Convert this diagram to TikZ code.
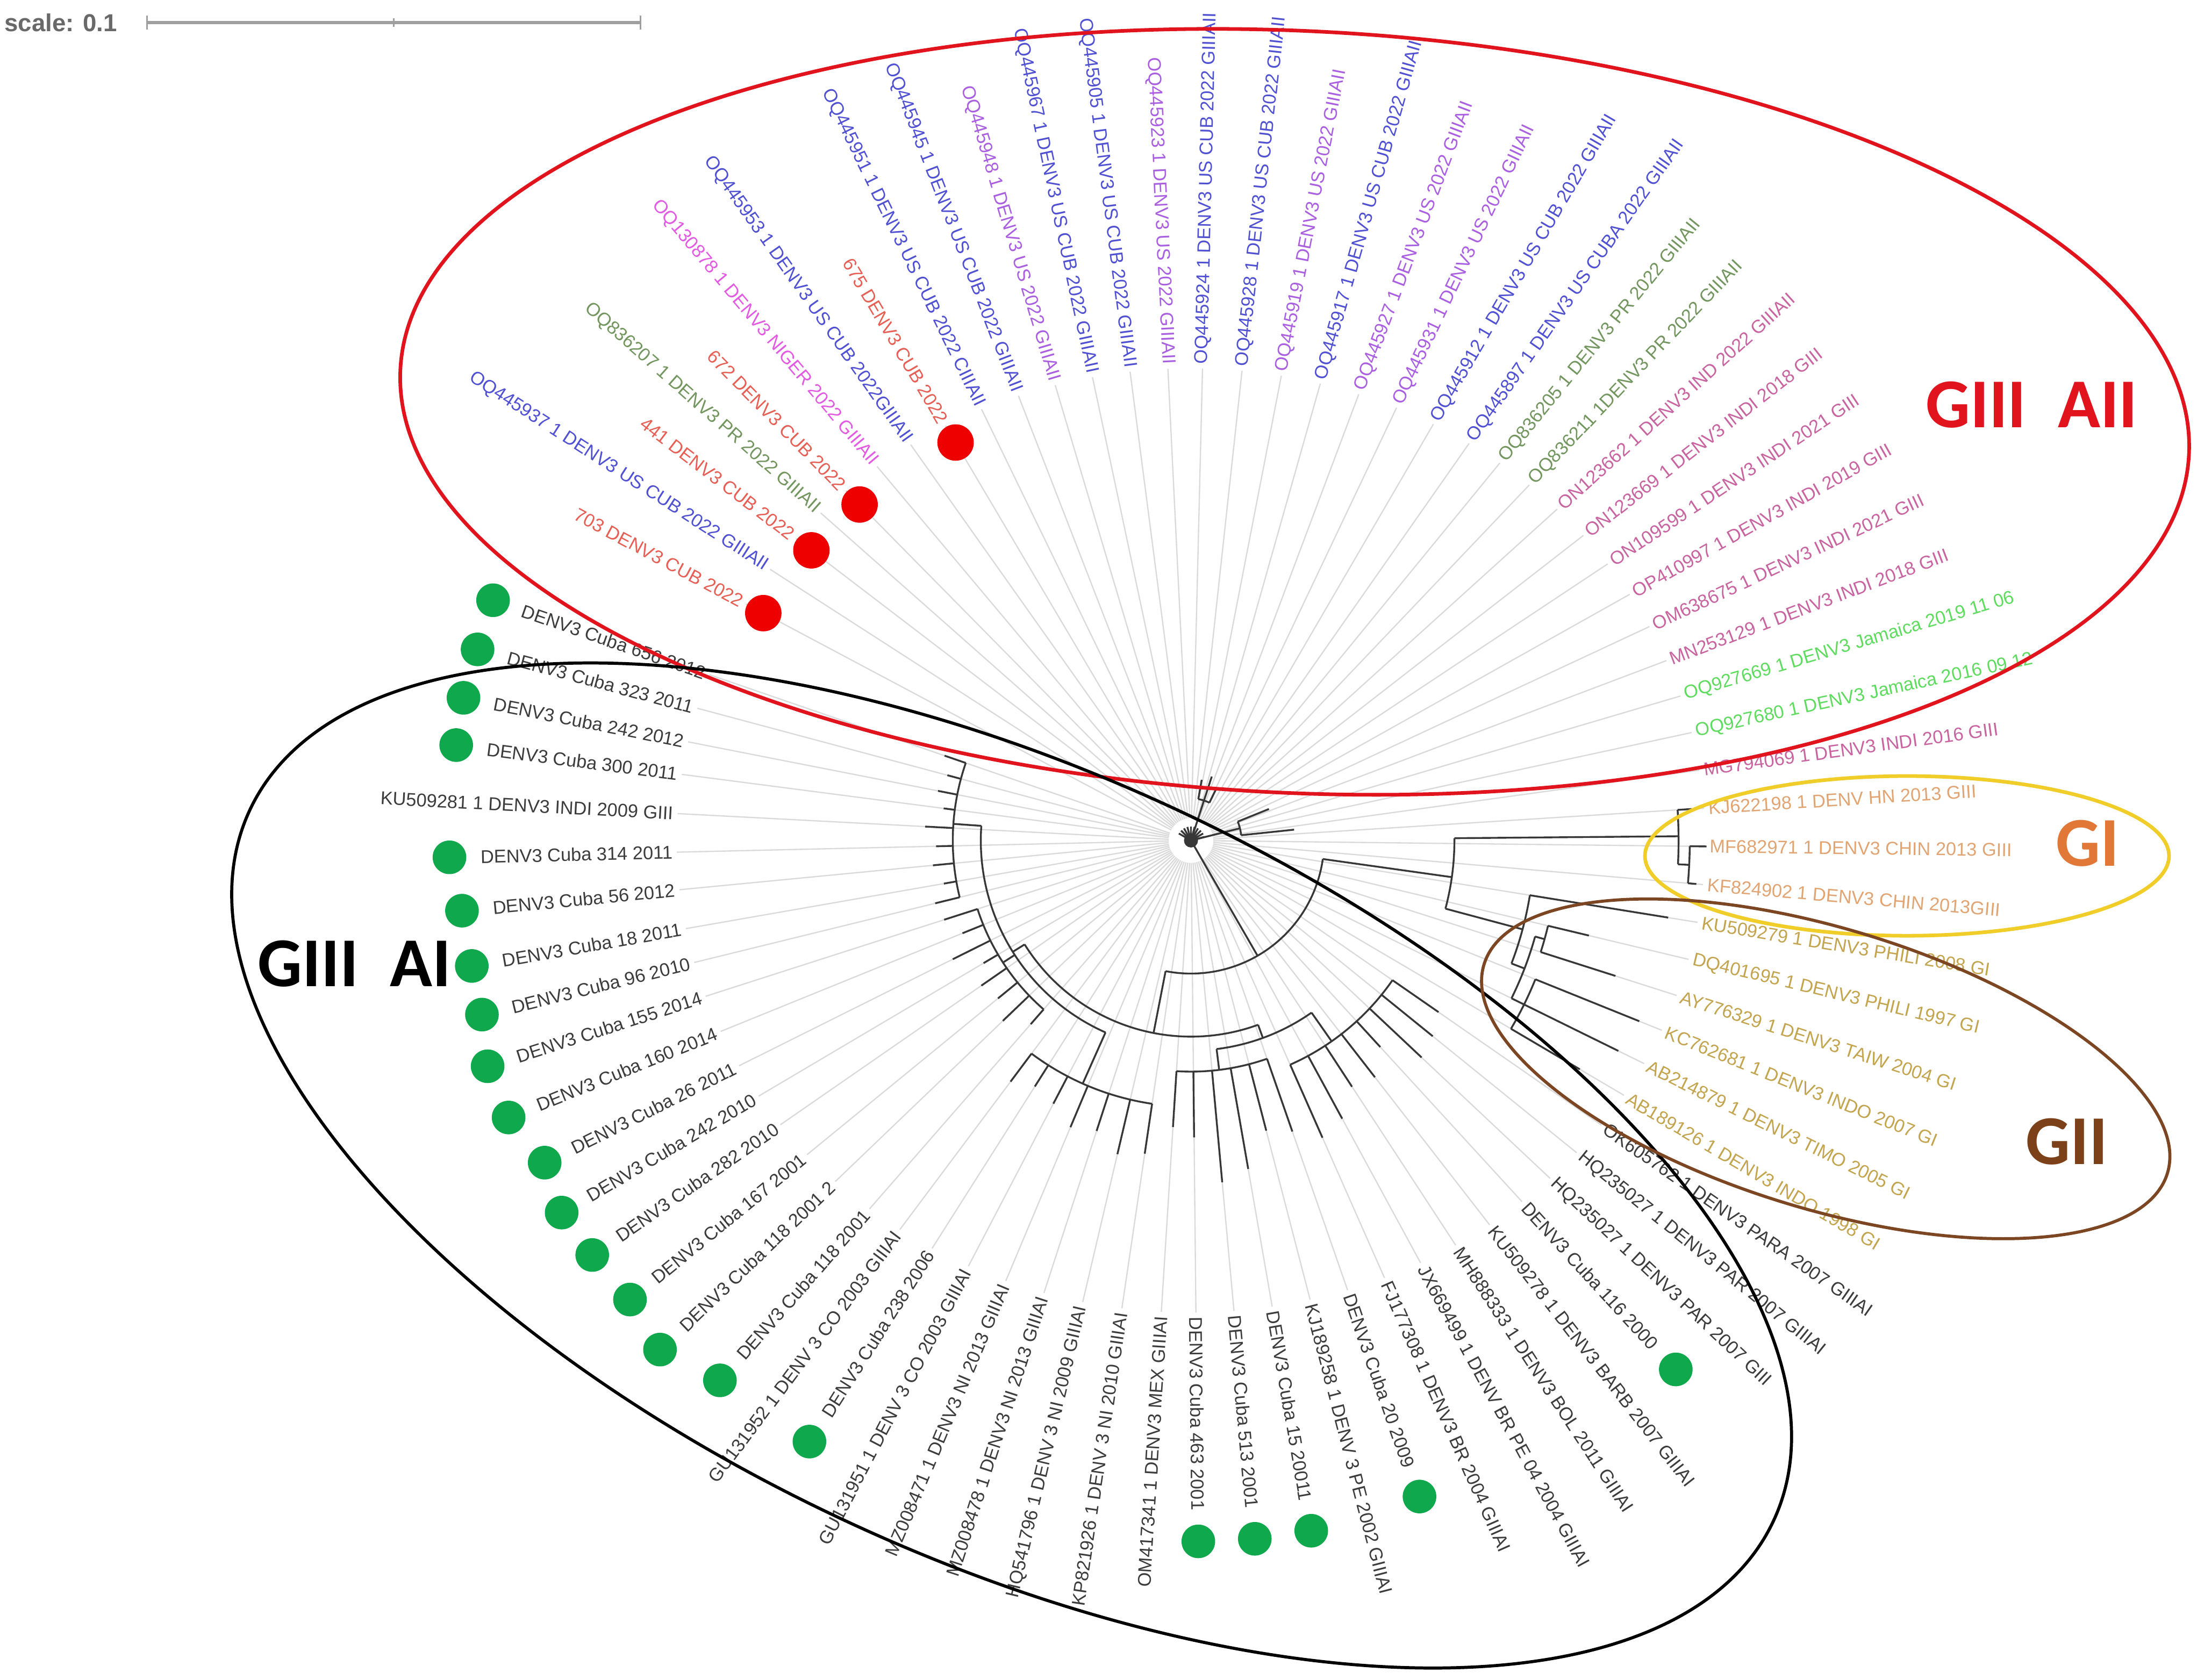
\documentclass[tikz,border=0pt]{standalone}
\usepackage{fontspec}
\setmainfont{Liberation Sans}
\newfontfamily\calib{Carlito}
\usetikzlibrary{calc}
\definecolor{cblue}{RGB}{80,80,210}
\definecolor{cpurp}{RGB}{170,95,225}
\definecolor{cmag}{RGB}{225,90,225}
\definecolor{csalm}{RGB}{230,95,85}
\definecolor{cpr}{RGB}{115,150,95}
\definecolor{cmauve}{RGB}{200,100,160}
\definecolor{cjam}{RGB}{95,220,95}
\definecolor{cgi}{RGB}{225,165,115}
\definecolor{cgii}{RGB}{195,165,80}
\definecolor{cblk}{RGB}{60,60,60}
\definecolor{dotg}{RGB}{16,168,76}
\definecolor{dotr}{RGB}{238,0,0}
\definecolor{ellred}{RGB}{225,20,30}
\definecolor{ellyel}{RGB}{240,205,40}
\definecolor{ellbrn}{RGB}{125,70,35}
\definecolor{giorange}{RGB}{225,120,55}
\definecolor{giibrown}{RGB}{125,65,25}
\definecolor{leadc}{RGB}{218,218,218}
\definecolor{treec}{RGB}{55,55,55}
\tikzset{
  lbl/.style={inner sep=0pt, font=\fontsize{13.2}{14}\selectfont},
  leaderline/.style={draw=leadc, line width=0.9pt},
  treeline/.style={draw=treec, line width=1.3pt},
  grp/.style={inner sep=0pt, font=\calib\bfseries\fontsize{50}{50}\selectfont},
}
\newcommand\tarc[3]{\draw[treeline] (#2:#1) arc[start angle=#2, end angle=#3, radius=#1pt];}
\newcommand\trad[3]{\draw[treeline] (#1:#2) -- (#1:#3);}
\begin{document}
\begin{tikzpicture}[x=1pt,y=1pt]
\useasboundingbox (0,0) rectangle (1568,-1199);
\fill[white] (0,0) rectangle (1568,-1199);

% scale bar
\node[anchor=west, inner sep=0pt, font=\bfseries\fontsize{17.5}{17.5}\selectfont, text={rgb,255:red,105;green,105;blue,105}] (scl) at (3,-16) {scale: 0.1};
\coordinate (sb1) at (105,-16);
\coordinate (sbm) at (281,-16);
\coordinate (sb2) at (457,-16);
\draw[gray!75, line width=2.4pt] (sb1) -- (sb2);
\draw[gray!75, line width=1.2pt] ($(sb1)+(0,5)$) -- ($(sb1)+(0,-5)$);
\draw[gray!75, line width=1.2pt] ($(sb2)+(0,5)$) -- ($(sb2)+(0,-5)$);
\draw[gray!75, line width=1.2pt] ($(sbm)+(0,3)$) -- ($(sbm)+(0,-3)$);

\begin{scope}[shift={(850,-600)}]
% ---------- left half leaves ----------
\foreach \ang/\col/\txt/\dt [count=\k] in {
92.8/cpurp/OQ445923 1 DENV3 US 2022 GIIIAII/0,
97.4/cblue/OQ445905 1 DENV3 US CUB 2022 GIIIAII/0,
102.0/cblue/OQ445967 1 DENV3 US CUB 2022 GIIIAII/0,
106.6/cpurp/OQ445948 1 DENV3 US 2022 GIIIAII/0,
111.2/cblue/OQ445945 1 DENV3 US CUB 2022 GIIIAII/0,
115.9/cblue/OQ445951 1 DENV3 US CUB 2022 CIIIAII/0,
120.6/csalm/675 DENV3 CUB 2022/2,
125.3/cblue/OQ445953 1 DENV3 US CUB 2022GIIIAII/0,
130.0/cmag/OQ130878 1 DENV3 NIGER 2022 GIIIAII/0,
134.6/csalm/672 DENV3 CUB 2022/2,
138.5/cpr/OQ836207 1 DENV3 PR 2022 GIIIAII/0,
142.6/csalm/441 DENV3 CUB 2022/2,
147.2/cblue/OQ445937 1 DENV3 US CUB 2022 GIIIAII/0,
152.0/csalm/703 DENV3 CUB 2022/2,
161.0/cblk/DENV3 Cuba 656 2012/1,
165.0/cblk/DENV3 Cuba 323 2011/1,
168.9/cblk/DENV3 Cuba 242 2012/1,
172.6/cblk/DENV3 Cuba 300 2011/1,
177.0/cblk/KU509281 1 DENV3 INDI 2009 GIII/0,
181.3/cblk/DENV3 Cuba 314 2011/1,
185.5/cblk/DENV3 Cuba 56 2012/1,
189.9/cblk/DENV3 Cuba 18 2011/1,
193.8/cblk/DENV3 Cuba 96 2010/1,
197.8/cblk/DENV3 Cuba 155 2014/1,
202.1/cblk/DENV3 Cuba 160 2014/1,
206.5/cblk/DENV3 Cuba 26 2011/1,
210.6/cblk/DENV3 Cuba 242 2010/1,
214.7/cblk/DENV3 Cuba 282 2010/1,
219.3/cblk/DENV3 Cuba 167 2001/1,
223.8/cblk/DENV3 Cuba 118 2001 2/1,
228.9/cblk/DENV3 Cuba 118 2001/1,
233.2/cblk/GU131952 1 DENV 3 CO 2003 GIIIAI/0,
237.6/cblk/DENV3 Cuba 238 2006/1,
242.4/cblk/GU131951 1 DENV 3 CO 2003 GIIIAI/0,
247.2/cblk/MZ008471 1 DENV3 NI 2013 GIIIAI/0,
252.0/cblk/MZ008478 1 DENV3 NI 2013 GIIIAI/0,
256.8/cblk/HQ541796 1 DENV 3 NI 2009 GIIIAI/0,
261.6/cblk/KP821926 1 DENV 3 NI 2010 GIIIAI/0,
266.4/cblk/OM417341 1 DENV3 MEX GIIIAI/0}{
  \pgfmathsetmacro\rr{12580/sqrt((34*cos(\ang))^2+(37*sin(\ang))^2)}
  \pgfmathsetmacro\rl{\rr-3}
  \pgfmathsetmacro\rot{\ang-180}
  \draw[leaderline] (\ang:16) -- (\ang:\rl);
  \node[lbl, text=\col, anchor=east, rotate=\rot] (ll\k) at (\ang:\rr) {\txt};
  \ifnum\dt=1 \fill[dotg] ($(ll\k.west)!-22pt!(ll\k.east)$) circle[radius=12pt]; \fi
  \ifnum\dt=2 \fill[dotr] ($(ll\k.east)!-17pt!(ll\k.west)$) circle[radius=13pt]; \fi
}
% ---------- right half leaves ----------
\foreach \ang/\col/\txt/\dt [count=\k] in {
88.6/cblue/OQ445924 1 DENV3 US CUB 2022 GIIIAII/0,
83.8/cblue/OQ445928 1 DENV3 US CUB 2022 GIIIAII/0,
79.0/cpurp/OQ445919 1 DENV3 US 2022 GIIIAII/0,
74.2/cblue/OQ445917 1 DENV3 US CUB 2022 GIIIAII/0,
69.4/cpurp/OQ445927 1 DENV3 US 2022 GIIIAII/0,
64.6/cpurp/OQ445931 1 DENV3 US 2022 GIIIAII/0,
59.8/cblue/OQ445912 1 DENV3 US CUB 2022 GIIIAII/0,
55.0/cblue/OQ445897 1 DENV3 US CUBA 2022 GIIIAII/0,
50.72/cpr/OQ836205 1 DENV3 PR 2022 GIIIAII/0,
46.43/cpr/OQ836211 1DENV3 PR 2022 GIIIAII/0,
42.15/cmauve/ON123662 1 DENV3 IND 2022 GIIIAII/0,
37.87/cmauve/ON123669 1 DENV3 INDI 2018 GIII/0,
33.58/cmauve/ON109599 1 DENV3 INDI 2021 GIII/0,
29.3/cmauve/OP410997 1 DENV3 INDI 2019 GIII/0,
25.02/cmauve/OM638675 1 DENV3 INDI 2021 GIII/0,
20.73/cmauve/MN253129 1 DENV3 INDI 2018 GIII/0,
16.45/cjam/OQ927669 1 DENV3 Jamaica 2019 11 06/0,
12.17/cjam/OQ927680 1 DENV3 Jamaica 2016 09 12/0,
7.88/cmauve/MG794069 1 DENV3 INDI 2016 GIII/0,
3.6/cgi/KJ622198 1 DENV HN 2013 GIII/0,
-0.66/cgi/MF682971 1 DENV3 CHIN 2013 GIII/0,
-4.92/cgi/KF824902 1 DENV3 CHIN 2013GIII/0,
-9.18/cgii/KU509279 1 DENV3 PHILI 2008 GI/0,
-13.44/cgii/DQ401695 1 DENV3 PHILI 1997 GI/0,
-17.7/cgii/AY776329 1 DENV3 TAIW 2004 GI/0,
-21.96/cgii/KC762681 1 DENV3 INDO 2007 GI/0,
-26.22/cgii/AB214879 1 DENV3 TIMO 2005 GI/0,
-30.48/cgii/AB189126 1 DENV3 INDO 1998 GI/0,
-34.74/cblk/OK605762 1 DENV3 PARA 2007 GIIIAI/0,
-39.0/cblk/HQ235027 1 DENV3 PAR 2007 GIIIAI/0,
-43.26/cblk/HQ235027 1 DENV3 PAR 2007 GIII/0,
-47.5/cblk/DENV3 Cuba 116 2000/1,
-52.16/cblk/KU509278 1 DENV3 BARB 2007 GIIIAI/0,
-56.82/cblk/MH888333 1 DENV3 BOL 2011 GIIIAI/0,
-61.48/cblk/JX669499 1 DENV BR PE 04 2004 GIIIAI/0,
-66.14/cblk/FJ177308 1 DENV3 BR 2004 GIIIAI/0,
-70.8/cblk/DENV3 Cuba 20 2009/1,
-75.46/cblk/KJ189258 1 DENV 3 PE 2002 GIIIAI/0,
-80.12/cblk/DENV3 Cuba 15 20011/1,
-84.78/cblk/DENV3 Cuba 513 2001/1,
-89.4/cblk/DENV3 Cuba 463 2001/1}{
  \pgfmathsetmacro\rr{12580/sqrt((34*cos(\ang))^2+(37*sin(\ang))^2)}
  \pgfmathsetmacro\rl{\rr-3}
  \draw[leaderline] (\ang:16) -- (\ang:\rl);
  \node[lbl, text=\col, anchor=west, rotate=\ang] (rl\k) at (\ang:\rr) {\txt};
  \ifnum\dt=1 \fill[dotg] ($(rl\k.east)!-22pt!(rl\k.west)$) circle[radius=12pt]; \fi
}

% ---------- tree ----------
\foreach \a in {15,30,45,60,75,90,105,120,135,150} {\trad{\a}{0}{10}}
\fill[treec] (0,0) circle[radius=5pt];
\trad{72}{0}{48} \tarc{30}{64}{80} \trad{64}{30}{40} \trad{80}{30}{44}
\trad{14}{0}{36} \tarc{36}{6}{22} \trad{22}{36}{60} \trad{6}{36}{74}
\trad{300}{0}{95}
\tarc{95}{259}{352}
\trad{352}{95}{188}
\tarc{188}{-15.0}{0.5}
\trad{0.5}{188}{348}
\tarc{348}{-2.8}{3.6}
\trad{3.6}{348}{358}
\trad{-2.8}{348}{356}
\tarc{356}{-4.92}{-0.66}
\trad{-0.66}{356}{368}
\trad{-4.92}{356}{362}
\trad{-15.0}{188}{245}
\tarc{245}{-21.0}{-9.18}
\trad{-9.18}{245}{345}
\trad{-21.0}{245}{255}
\tarc{255}{-26.22}{-15.6}
\trad{-15.6}{255}{262}
\tarc{262}{-17.7}{-13.44}
\trad{-13.44}{262}{292}
\trad{-17.7}{262}{318}
\trad{-26.22}{255}{265}
\tarc{265}{-30.48}{-21.96}
\trad{-21.96}{265}{345}
\trad{-26.22}{265}{340}
\trad{-30.48}{265}{322}
\trad{259}{95}{140}
\tarc{140}{212}{290}
\trad{212}{140}{150}
\tarc{150}{176}{246}
\trad{176}{150}{170}
\tarc{170}{161.0}{193.8}
\foreach \a/\t in {161.0/186,165.0/180,168.9/184,172.6/178,177.0/190,181.3/182,185.5/185,189.9/179,193.8/188} {\trad{\a}{170}{\t}}
\trad{213}{150}{160}
\tarc{160}{197.8}{228.9}
\foreach \a/\t in {197.8/185,202.1/176,206.5/190,210.6/172,214.7/182,219.3/178,223.8/186,228.9/174} {\trad{\a}{160}{\t}}
\trad{246}{150}{190}
\tarc{190}{233.2}{261.6}
\foreach \a/\t in {233.2/215,237.6/208,242.4/212,247.2/222,252.0/218,256.8/230,261.6/226} {\trad{\a}{190}{\t}}
\trad{290}{140}{150}
\tarc{150}{277}{305}
\trad{277}{150}{165}
\tarc{165}{266.4}{289.2}
\foreach \a/\t in {266.4/205,270.6/212,275.22/245,279.88/238,284.54/214,289.2/220} {\trad{\a}{165}{\t}}
\trad{305}{150}{175}
\tarc{175}{293.86}{325.26}
\foreach \a/\t in {293.86/232,298.52/226,303.18/210,307.84/214,312.5/200,316.74/226,321.0/222,325.26/215} {\trad{\a}{175}{\t}}
\end{scope}

% ---------- clade ellipses ----------
\draw[ellred, line width=2.6pt, rotate around={-2.7:(924,-294)}] (924,-294) ellipse[x radius=639pt, y radius=272pt];
\draw[black, line width=2.2pt, rotate around={-25:(722,-832)}] (722,-832) ellipse[x radius=600pt, y radius=280pt];
\draw[ellyel, line width=2.6pt] (1361,-611) ellipse[x radius=187pt, y radius=57pt];
\draw[ellbrn, line width=2.2pt, rotate around={-17:(1303,-763)}] (1303,-763) ellipse[x radius=255pt, y radius=100pt];

% ---------- clade names ----------
\node[grp, text=ellred] (gaii) at (1450,-289) {GIII\hspace{0.45em}AII};
\node[grp, text=black] (gai) at (253,-688) {GIII\hspace{0.45em}AI};
\node[grp, text=giorange] (gi) at (1490,-602) {GI};
\node[grp, text=giibrown] (gii) at (1475,-815) {GII};
\end{tikzpicture}
\end{document}
